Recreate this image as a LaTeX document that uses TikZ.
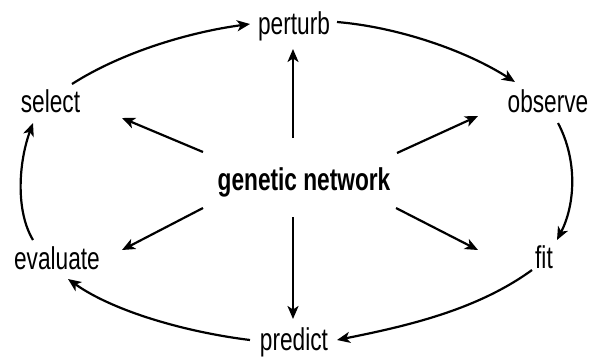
\documentclass[tikz,border=0pt]{standalone}
\usepackage{fontspec}
\setmainfont{Liberation Sans}[FakeStretch=0.72]
\usetikzlibrary{arrows.meta,calc}
\tikzset{
  lbl/.style={inner sep=0pt, font=\fontsize{31.5}{32}\selectfont},
  hub/.style={inner sep=0pt, font=\fontsize{31.5}{32}\selectfont\bfseries},
  link/.style={line width=2.2pt, -{Stealth[length=13pt,width=11pt,inset=3.5pt]}}
}
\begin{document}
\begin{tikzpicture}[x=1pt,y=-1pt]
\useasboundingbox (0,0) rectangle (591,357);
% cycle labels
\node[lbl] (perturb)  at (294,26)    {perturb};
\node[lbl] (observe)  at (548,101.5) {observe};
\node[lbl] (fit)      at (544,257.5) {fit};
\node[lbl] (predict)  at (294,342)   {predict};
\node[lbl] (evaluate) at (57,258.5)  {evaluate};
\node[lbl] (select)   at (50.5,101.5){select};
\node[hub] (gn)       at (304,182)   {genetic network};
% outer cycle
\draw[link] ($(select)+(21.5,-17.5)$) .. controls +(50,-32) and +(-60,8) .. ($(perturb)+(-44,-2)$);
\draw[link] ($(perturb)+(43,-4)$) .. controls +(60,5) and +(-50,-32) .. ($(observe)+(-33,-19.5)$);
\draw[link] ($(observe)+(10,21.5)$) .. controls +(20,38) and +(18,-35) .. ($(fit)+(13,-17.5)$);
\draw[link] ($(fit)+(-12,12.5)$) .. controls +(-55,40) and +(70,-14) .. ($(predict)+(43,-2)$);
\draw[link] ($(predict)+(-44,-2)$) .. controls +(-65,-8) and +(45,32) .. ($(evaluate)+(11,20.5)$);
\draw[link] ($(evaluate)+(-24,-18.5)$) .. controls +(-18,-30) and +(-14,38) .. ($(select)+(-17.5,21.5)$);
% spokes from the hub
\draw[link] ($(gn)+(-11,-44)$) -- ($(perturb)+(-1,23)$);
\draw[link] ($(gn)+(-101,-30)$) -- ($(select)+(71.5,16.5)$);
\draw[link] ($(gn)+(93,-29)$) -- ($(observe)+(-70,14.5)$);
\draw[link] ($(gn)+(-101,26)$) -- ($(evaluate)+(65,-8.5)$);
\draw[link] ($(gn)+(92,26)$) -- ($(fit)+(-66,-7.5)$);
\draw[link] ($(gn)+(-11,35)$) -- ($(predict)+(-1,-23)$);
\end{tikzpicture}
\end{document}
